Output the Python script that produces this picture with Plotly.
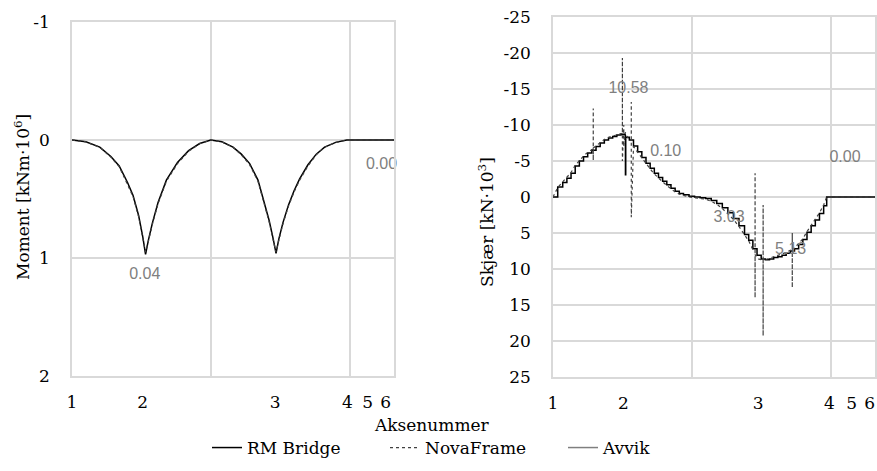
import plotly.graph_objects as go

# ---- x positions in metres along the bridge ----
support_pos_left = [0, 25.5, 73.2, 99.2, 106.5, 113]
support_pos_right = [0, 25.4, 73.9, 99.6, 107.6, 114.1]
support_labels = ["1", "2", "3", "4", "5", "6"]

moment_ticks = [-1, 0, 1, 2]
moment_tick_text = ["-1", "0", "1", "2"]
shear_ticks = [-25, -20, -15, -10, -5, 0, 5, 10, 15, 20, 25]
shear_tick_text = ["-25", "-20", "-15", "-10", "-5", "0", "5", "10", "15", "20", "25"]

# ---- Moment [kNm·10^6] ----
moment_x = [0, 5, 10, 14, 17, 20, 22, 24, 25.5, 26.5, 27.5, 29, 31, 34, 38, 42, 46, 50,
            54, 58, 61, 64, 67, 69, 71, 72.5, 73.5, 74.5, 76, 78, 80, 82, 85, 88, 91, 95, 99, 116]
moment_rm = [0, 0.015, 0.06, 0.14, 0.22, 0.36, 0.47, 0.64, 0.82, 0.97, 0.85, 0.7, 0.53, 0.34, 0.19,
             0.09, 0.03, 0, 0.015, 0.06, 0.12, 0.2, 0.34, 0.5, 0.68, 0.84, 0.96, 0.84, 0.7, 0.55,
             0.43, 0.33, 0.21, 0.12, 0.06, 0.02, 0, 0]
moment_nova = [0, 0.016, 0.062, 0.145, 0.225, 0.37, 0.48, 0.65, 0.83, 0.95, 0.86, 0.71, 0.54, 0.35,
               0.2, 0.095, 0.032, 0, 0.016, 0.062, 0.125, 0.21, 0.35, 0.51, 0.69, 0.85, 0.95, 0.85,
               0.71, 0.56, 0.44, 0.34, 0.22, 0.125, 0.062, 0.021, 0, 0]

moment_label_x = [26.2, 111.5]
moment_label_y = [1.14, 0.21]
moment_label_text = ["0.04", "0.00"]

# ---- Shear [kN·10^3] ----
shear_x = [0, 1.7, 3.5, 5, 6.5, 8, 9.5, 11, 12.5, 14, 15.5, 17, 18.5, 20, 21.5, 23, 24.5, 26, 26.1, 26.2,
           27.5, 29, 30.5, 32, 33.5, 35, 36.5, 38, 39.5, 41, 42.5, 44, 45.5, 47, 49, 51, 53, 55, 57,
           59, 61, 63, 65, 67, 69, 70.5, 72, 73.5, 75, 76.5, 78, 79.5, 81, 82.5, 84, 85.5, 87, 88.5,
           90, 91.5, 93, 94.5, 96, 97.5, 98.6, 116]
shear_rm = [0, -1.4, -2.0, -2.6, -3.3, -4.3, -5.0, -5.6, -6.1, -6.5, -7.0, -7.5, -7.9, -8.2, -8.4,
            -8.6, -8.7, -8.5, -3.1, -8.3, -7.9, -7.1, -6.3, -5.5, -4.7, -4.0, -3.3, -2.7, -2.2, -1.7,
            -1.2, -0.8, -0.5, -0.3, -0.1, 0, 0.1, 0.2, 0.5, 0.9, 1.5, 2.2, 3.0, 4.0, 5.2, 6.0, 7.2,
            8.1, 8.6, 8.7, 8.6, 8.4, 8.3, 8.1, 7.8, 7.5, 7.2, 6.6, 5.9, 4.9, 4.0, 3.2, 2.3, 1.2, 0, 0]

nova_x = [0, 1.7, 3.5, 5, 6.5, 8, 9.5, 11, 12.5, 14.5, 14.5, 14.5, 14.5, 15.5, 17, 18.5, 20, 21.5, 23,
          24.5, 25, 25, 25, 25.5, 25.5, 26, 27, 28.2, 28.2, 28.2, 29, 30.5, 32, 33.5, 35, 36.5, 38,
          39.5, 41, 42.5, 44, 45.5, 47, 49, 51, 53, 55, 57, 59, 61, 63, 65, 67, 69, 70.5, 72, 72.8,
          72.8, 72.8, 72.8, 74, 75.7, 75.7, 75.7, 75.7, 76.5, 78, 79.5, 81, 82.5, 84, 85.5, 86.2, 86.2,
          86.2, 86.2, 87, 88.5, 90, 91.5, 93, 94.5, 96, 97.5, 98.6, 116]
shear_nova = [0, -1.3, -2.1, -2.7, -3.4, -4.4, -5.1, -5.7, -6.2, -6.7, -12.3, -5.1, -6.8, -7.1, -7.6,
              -8.0, -8.3, -8.5, -8.7, -8.8, -8.8, -19.3, -5.0, -10.0, -7.0, -9.0, -8.2, -8.0, -13.2,
              2.8, -7.0, -6.2, -5.4, -4.6, -3.9, -3.2, -2.6, -2.1, -1.6, -1.1, -0.7, -0.4, -0.2, 0,
              0.1, 0.2, 0.3, 0.6, 1.0, 1.6, 2.3, 3.1, 4.1, 5.3, 6.1, 7.3, 7.6, -3.3, 14.0, 8.0, 8.6,
              8.8, 1.1, 19.3, 8.8, 8.7, 8.5, 8.3, 8.2, 8.0, 7.7, 7.4, 7.3, 5.0, 12.6, 7.2, 7.1, 6.5,
              5.8, 4.8, 3.9, 3.1, 2.2, 1.1, 0, 0]

shear_label_x = [27.2, 40.6, 63.4, 85.6, 105.2]
shear_label_y = [-15.0, -6.25, 2.9, 7.4, -5.4]
shear_label_text = ["10.58", "0.10", "3.03", "5.13", "0.00"]

SERIF = "DejaVu Serif"
FS = 17
SANS = "Liberation Sans, Arial"
GRID = "#d9d9d9"
LABEL_GRAY = "#808080"

fig = go.Figure()

# Left chart
fig.add_trace(go.Scatter(x=moment_x, y=moment_rm, mode="lines", name="RM Bridge",
                         line=dict(color="#000000", width=1.5), xaxis="x", yaxis="y"))
fig.add_trace(go.Scatter(x=moment_x, y=moment_nova, mode="lines", name="NovaFrame",
                         line=dict(color="#404040", width=1.2, dash="dot"), xaxis="x", yaxis="y"))
fig.add_trace(go.Scatter(x=[None], y=[None], mode="lines", name="Avvik",
                         line=dict(color="#7f7f7f", width=1.5), xaxis="x", yaxis="y"))
fig.add_trace(go.Scatter(x=moment_label_x, y=moment_label_y, text=moment_label_text, mode="text",
                         textfont=dict(family=SANS, size=16, color=LABEL_GRAY), showlegend=False,
                         cliponaxis=False, xaxis="x", yaxis="y"))

# Right chart
fig.add_trace(go.Scatter(x=shear_x, y=shear_rm, mode="lines", line_shape="hv", showlegend=False,
                         line=dict(color="#000000", width=1.5), xaxis="x2", yaxis="y2"))
fig.add_trace(go.Scatter(x=nova_x, y=shear_nova, mode="lines", showlegend=False,
                         line=dict(color="#404040", width=1.2, dash="dot"), xaxis="x2", yaxis="y2"))
fig.add_trace(go.Scatter(x=shear_label_x, y=shear_label_y, text=shear_label_text, mode="text",
                         textfont=dict(family=SANS, size=16, color=LABEL_GRAY), showlegend=False,
                         cliponaxis=False, xaxis="x2", yaxis="y2"))

W, H = 877, 471

def xax(domain, tickvals, anchor):
    return dict(domain=domain, range=[0, 116], tickmode="array", tickvals=tickvals,
                ticktext=support_labels, showgrid=False, zeroline=False, automargin=False,
                anchor=anchor,
                minor=dict(tick0=0, dtick=50, showgrid=True, gridcolor=GRID, gridwidth=1.5, ticks=""),
                showline=True, mirror=True, linecolor=GRID, linewidth=1.5, ticks="",
                ticklabelstandoff=10, tickfont=dict(family=SERIF, size=FS, color="#000"))

def yax(domain, rng, tv, tt, anchor):
    return dict(domain=domain, range=rng, tickmode="array", tickvals=tv, ticktext=tt,
                showgrid=True, gridcolor=GRID, automargin=False,
                gridwidth=1.5, zeroline=False, showline=True, mirror=True, linecolor=GRID,
                linewidth=1.5, ticks="", ticklabelstandoff=17, anchor=anchor,
                tickfont=dict(family=SERIF, size=FS, color="#000"))

fig.update_layout(
    width=W, height=H,
    margin=dict(l=0, r=0, t=0, b=0),
    paper_bgcolor="white", plot_bgcolor="white",
    font=dict(family=SERIF),
    xaxis=xax([72 / W, 394 / W], support_pos_left, "y"),
    yaxis=yax([1 - 376 / H, 1 - 22 / H], [2, -1], moment_ticks, moment_tick_text, "x"),
    xaxis2=xax([553 / W, 875 / W], support_pos_right, "y2"),
    yaxis2=yax([1 - 377 / H, 1 - 17 / H], [25, -25], shear_ticks, shear_tick_text, "x2"),
    showlegend=True,
    legend=dict(orientation="h", x=207 / W, xanchor="left", y=1 - 448 / H, yanchor="middle",
                font=dict(family=SERIF, size=FS, color="#000"), entrywidth=133,
                bgcolor="rgba(0,0,0,0)"),
    annotations=[
        dict(text="Moment [kNm·10<sup>6</sup>]", x=22 / W, y=1 - 197 / H, xref="paper", yref="paper",
             textangle=-90, showarrow=False, font=dict(family=SERIF, size=FS, color="#000"),
             xanchor="center", yanchor="middle"),
        dict(text="Skjær [kN·10<sup>3</sup>]", x=486 / W, y=1 - 222 / H, xref="paper", yref="paper",
             textangle=-90, showarrow=False, font=dict(family=SERIF, size=FS, color="#000"),
             xanchor="center", yanchor="middle"),
        dict(text="Aksenummer", x=432 / W, y=1 - 425 / H, xref="paper", yref="paper",
             showarrow=False, font=dict(family=SERIF, size=FS, color="#000"),
             xanchor="center", yanchor="middle"),
    ],
)

fig.write_html("out.html", config={"displayModeBar": False},
               post_script="document.body.style.margin='0px';")
